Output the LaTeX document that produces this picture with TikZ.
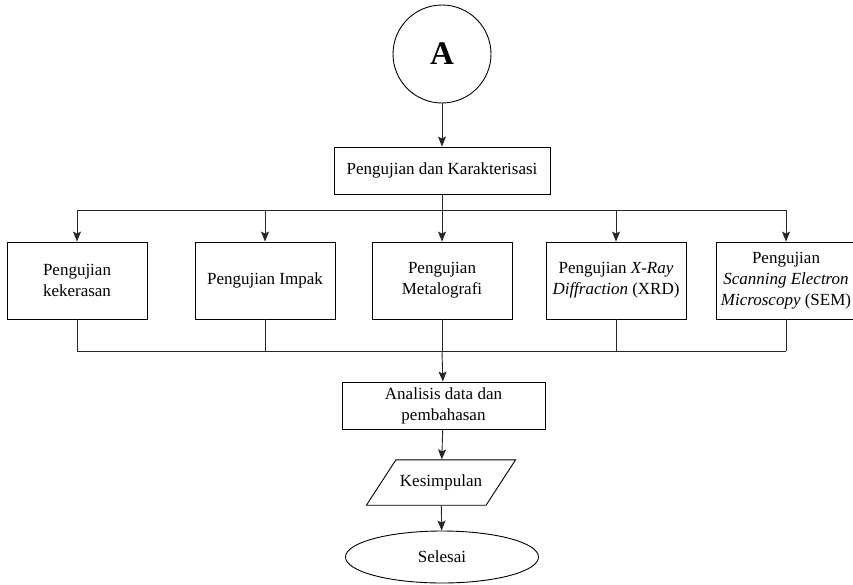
\documentclass[tikz,border=0pt]{standalone}
\usepackage{fontspec}
\setmainfont{Liberation Serif}
\usetikzlibrary{arrows.meta,positioning,shapes.geometric}
\tikzset{
  proc/.style={draw=black,fill=white,align=center,inner sep=2pt,line width=0.9pt,
    font=\fontsize{17}{21}\selectfont},
  testbox/.style={proc,minimum width=140pt,minimum height=77pt},
  iobox/.style={proc,trapezium,trapezium left angle=57,trapezium right angle=123,
    trapezium stretches body,minimum width=144pt,inner xsep=4pt,inner ysep=15pt},
  terminal/.style={proc,ellipse,minimum width=193pt,minimum height=52pt,inner sep=0pt},
  connector/.style={proc,circle,minimum size=98pt,inner sep=0pt,
    font=\fontsize{33}{36}\selectfont\bfseries},
  arrow/.style={-{Stealth[length=10pt,width=8pt,inset=2pt]},draw=black!85,line width=0.9pt},
  line/.style={draw=black!85,line width=0.9pt}
}
\begin{document}
\begin{tikzpicture}[x=1pt,y=-1pt]
  \useasboundingbox (0,0) rectangle (853,584);
  \node[connector] (a) at (442,54) {A};
  \node[proc,minimum width=216pt,minimum height=47pt] (uji) at (442,170.5) {Pengujian dan Karakterisasi};
  % baris pengujian
  \node[testbox] (t1) at (77,280.5) {Pengujian\\kekerasan};
  \node[testbox] (t2) at (265,280.5) {Pengujian Impak};
  \node[testbox] (t3) at (442,280.5) {Pengujian\\Metalografi};
  \node[testbox] (t4) at (616,280.5) {Pengujian \textit{X-Ray}\\\textit{Diffraction} (XRD)};
  \node[testbox] (t5) at (786,280.5) {Pengujian\\\textit{Scanning Electron}\\\textit{Microscopy} (SEM)};
  \node[proc,minimum width=203pt,minimum height=47pt] (analisis) at (443.5,405.5) {Analisis data dan\\pembahasan};
  \node[iobox] (simpul) at (441,482.5) {Kesimpulan};
  \node[terminal] (selesai) at (442,557) {Selesai};
  \coordinate (busT) at (442,210);
  \coordinate (busB) at (442,351);
  \draw[arrow] (a) -- (uji);
  \draw[line] (uji) -- (busT);
  \draw[line] (t1.north |- busT) -- (t5.north |- busT);
  \foreach \i in {1,...,5}
    \draw[arrow] (t\i.north |- busT) -- (t\i);
  \foreach \i in {1,...,5}
    \draw[line] (t\i) -- (t\i.south |- busB);
  \draw[line] (t1.south |- busB) -- (t5.south |- busB);
  \draw[arrow] (busB) -- (analisis);
  \draw[arrow] (analisis) -- (simpul);
  \draw[arrow] (simpul) -- (selesai);
\end{tikzpicture}
\end{document}
